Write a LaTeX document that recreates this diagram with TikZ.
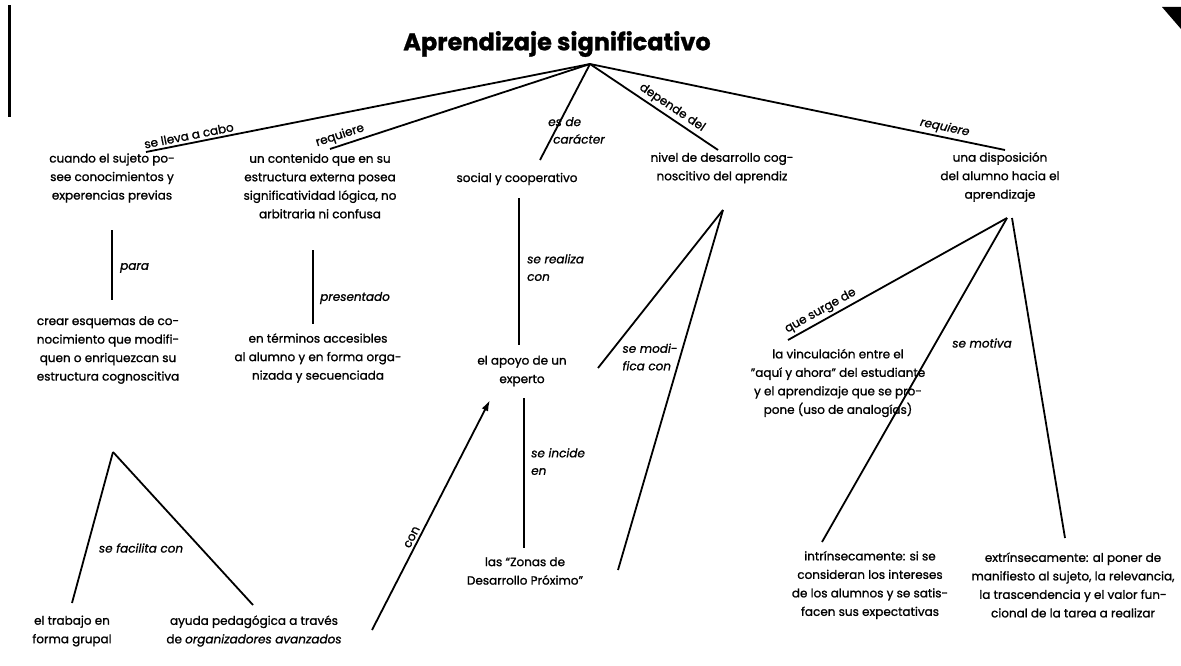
\documentclass[tikz,border=0pt]{standalone}
\usepackage{fontspec}
\setmainfont{Poppins}[FakeBold=1.1]
\usetikzlibrary{arrows.meta}
\begin{document}
\begin{tikzpicture}[x=1pt,y=-1pt,
  concept/.style={align=center,inner sep=0pt,font=\fontsize{12}{18.5}\selectfont},
  heading/.style={inner sep=0pt,font=\fontsize{24}{28}\selectfont\bfseries},
  link/.style={line width=1.8pt},
  tag/.style={inner sep=0pt,align=left,font=\fontsize{12}{17.5}\selectfont\itshape},
  slope/.style={sloped,above,inner sep=2.5pt,font=\fontsize{12}{14}\selectfont},
  slopeit/.style={slope,font=\fontsize{12}{14}\selectfont\itshape},
]
\useasboundingbox (0,0) rectangle (1181,666);

% page edge marks
\fill (8,5) rectangle (11,117);
\fill (1162,7) -- (1181,7) -- (1181,29) -- cycle;

% root
\node[heading] (root) at (557,44) {Aprendizaje significativo};
\coordinate (hub) at (590,64);

% first level
\node[concept] (a1) at (112,178) {cuando el sujeto po-\\see conocimientos y\\experencias previas};
\node[concept] (a2) at (320,186) {un contenido que en su\\estructura externa posea\\significatividad lógica, no\\arbitraria ni confusa};
\node[concept] (a3) at (517,179) {social y cooperativo};
\node[concept] (a4) at (722,168) {nivel de desarrollo cog-\\noscitivo del aprendiz};
\node[concept] (a5) at (1000,177) {una disposición\\del alumno hacia el\\aprendizaje};

% second level
\node[concept] (b1) at (108,350) {crear esquemas de co-\\nocimiento que modifi-\\quen o enriquezcan su\\estructura cognoscitiva};
\node[concept] (b2) at (318,358) {en términos accesibles\\al alumno y en forma orga-\\nizada y secuenciada};
\node[concept] (b3) at (522,371) {el apoyo de un\\experto};
\node[concept] (b5) at (838,383) {la vinculación entre el\\"aquí y ahora" del estudiante\\y el aprendizaje que se pro-\\pone (uso de analogías)};

% third level
\node[concept] (c1a) at (72,631) {el trabajo en\\forma grupal};
\node[concept] (c1b) at (254,631) {ayuda pedagógica a través\\de \textit{organizadores avanzados}};
\node[concept] (c3) at (525,571) {las “Zonas de\\Desarrollo Próximo”};
\node[concept] (c5a) at (870,585) {intrínsecamente: si se\\consideran los intereses\\de los alumnos y se satis-\\facen sus expectativas};
\node[concept] (c5b) at (1073,585) {extrínsecamente: al poner de\\manifiesto al sujeto, la relevancia,\\la trascendencia y el valor fun-\\cional de la tarea a realizar};

% connector ends
\coordinate (a1in) at (146,152);
\coordinate (a2in) at (330,149);
\coordinate (a3in) at (540,160);
\coordinate (a4in) at (718,150);
\coordinate (a5in) at (1005,150);
\coordinate (a1out) at (112,230);
\coordinate (b1in) at (112,300);
\coordinate (a2out) at (313,250);
\coordinate (b2in) at (313,324);
\coordinate (a3out) at (519,198);
\coordinate (b3in) at (519,345);
\coordinate (b3out) at (524,398);
\coordinate (c3in) at (524,548);
\coordinate (a4out) at (723,210);
\coordinate (b3r) at (598,368);
\coordinate (c3r) at (618,570);
\coordinate (a5out) at (1007,218);
\coordinate (a5out2) at (1012,218);
\coordinate (b5in) at (788,340);
\coordinate (c5ain) at (822,542);
\coordinate (c5bin) at (1065,538);
\coordinate (b1out) at (113,452);
\coordinate (c1ain) at (72,603);
\coordinate (c1bin) at (253,605);
\coordinate (c1bout) at (372,630);
\coordinate (b3ll) at (490,400);

% root links
\draw[link] (a1in) -- node[slope,pos=0.1] {se lleva a cabo} (hub);
\draw[link] (a2in) -- node[slope,pos=0.05] {requiere} (hub);
\draw[link] (hub) -- (a3in);
\node[tag,anchor=north west] (t3) at (548,117) {es de\\\hspace{5pt}carácter};
\draw[link] (hub) -- node[slope,pos=0.6] {depende del} (a4in);
\draw[link] (hub) -- node[slopeit,pos=0.85] {requiere} (a5in);

% vertical links
\draw[link] (a1out) -- (b1in);
\node[tag,anchor=west] (tpara) at (120,268) {para};
\draw[link] (a2out) -- (b2in);
\node[tag,anchor=west] (tpres) at (320,298) {presentado};
\draw[link] (a3out) -- (b3in);
\node[tag,anchor=north west] (treal) at (527,254) {se realiza\\con};
\draw[link] (b3out) -- (c3in);
\node[tag,anchor=north west] (tinc) at (531,448) {se incide\\en};

% links from the fourth concept
\draw[link] (a4out) -- (b3r);
\draw[link] (a4out) -- (c3r);
\node[tag] (tmod) at (650,357) {se modi-\\fica con};

% links from the fifth concept
\draw[link] (b5in) -- node[slope,pos=0.17] {que surge de} (a5out);
\draw[link] (a5out) -- (c5ain);
\draw[link] (a5out2) -- (c5bin);
\node[tag] (tmot) at (982,343) {se motiva};

% links below the second level
\draw[link] (b1out) -- (c1ain);
\draw[link] (b1out) -- (c1bin);
\node[tag] (tfac) at (141,548) {se facilita con};
\draw[link,-{Latex[length=11pt,width=7pt]}] (c1bout) -- node[slope,pos=0.39] {con} (b3ll);
\end{tikzpicture}
\end{document}
